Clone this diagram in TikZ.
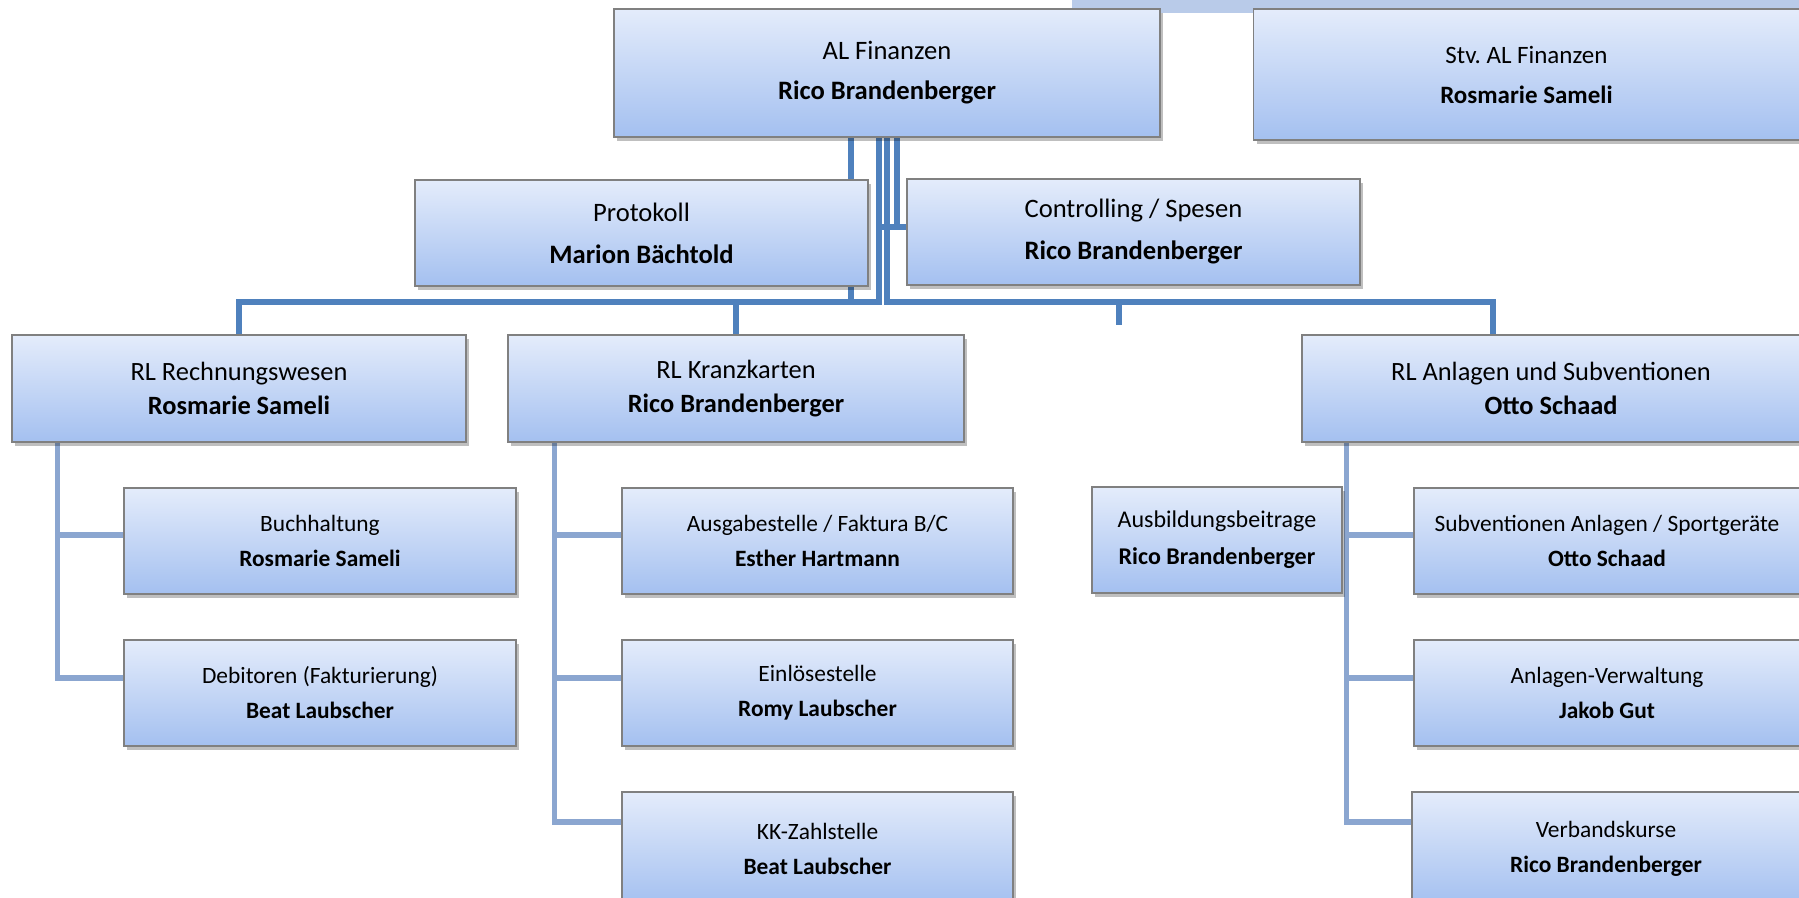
\documentclass[tikz,border=0pt]{standalone}
\usepackage{fontspec}
\setmainfont{Carlito}
\usetikzlibrary{shadows,backgrounds}
\definecolor{boxtop}{RGB}{228,236,251}
\definecolor{boxbot}{RGB}{164,192,240}
\definecolor{boxline}{RGB}{128,128,128}
\definecolor{lineblue}{RGB}{79,129,189}
\definecolor{linelight}{RGB}{139,166,208}
\definecolor{stripblue}{RGB}{185,203,233}
\begin{document}
\begin{tikzpicture}[x=0.5pt,y=-0.5pt,
	box/.style={draw=boxline,line width=0.75pt,top color=boxtop,bottom color=boxbot,
		drop shadow={shadow xshift=1.5pt,shadow yshift=-2pt,opacity=0.25,fill=black},
		inner sep=0pt,align=center},
	chef/.style={box,minimum width=273pt,minimum height=64pt,font=\fontsize{13.3pt}{20pt}\selectfont},
	stab/.style={box,minimum width=226.5pt,minimum height=53pt,font=\fontsize{13.3pt}{21pt}\selectfont},
	rl/.style={box,minimum height=53.5pt,font=\fontsize{13.2pt}{17pt}\selectfont},
	sub/.style={box,minimum height=53pt,font=\fontsize{11.7pt}{17.5pt}\selectfont},
	conn/.style={line width=2.75pt,color=lineblue},
	subconn/.style={line width=2.75pt,color=linelight}]
	\useasboundingbox (0,0) rectangle (1799,898);
	\fill[stripblue] (1072,0) rectangle (1799,13);
	% Leitung
	\node[chef] (al) at (887,73) {AL Finanzen\\\textbf{Rico Brandenberger}};
	\node[chef,font=\fontsize{12.5pt}{20pt}\selectfont,minimum height=65.5pt] (stv) at (1526.5,74.5) {Stv.\ AL Finanzen\\\textbf{Rosmarie Sameli}};
	\node[stab] (pr) at (641.5,233) {Protokoll\\\textbf{Marion Bächtold}};
	\node[stab] (ct) at (1133.5,232) {Controlling / Spesen\\\textbf{Rico Brandenberger}};
	% Ressorts
	\node[rl,minimum width=227pt] (rw) at (239,388.5) {RL Rechnungswesen\\\textbf{Rosmarie Sameli}};
	\node[rl,minimum width=228pt] (kz) at (736,388.5) {RL Kranzkarten\\\textbf{Rico Brandenberger}};
	\node[rl,minimum width=249pt] (an) at (1551,388.5) {RL Anlagen und Subventionen\\\textbf{Otto Schaad}};
	\coordinate (leer) at (1119,325);
	% Stellen
	\node[sub,minimum width=196pt] (bu) at (320,541) {Buchhaltung\\\textbf{Rosmarie Sameli}};
	\node[sub,minimum width=196pt] (de) at (320,693) {Debitoren (Fakturierung)\\\textbf{Beat Laubscher}};
	\node[sub,minimum width=195.5pt] (ag) at (817.5,541) {Ausgabestelle / Faktura B/C\\\textbf{Esther Hartmann}};
	\node[sub,minimum width=195.5pt] (el) at (817.5,693) {Einlösestelle\\\textbf{Romy Laubscher}};
	\node[sub,minimum width=195.5pt,minimum height=56.5pt] (kk) at (817.5,848.5) {KK-Zahlstelle\\\textbf{Beat Laubscher}};
	\node[sub,minimum width=125pt,font=\fontsize{12pt}{18.5pt}\selectfont] (ab) at (1217,540) {Ausbildungsbeitrage\\\textbf{Rico Brandenberger}};
	\node[sub,minimum width=193pt] (sv) at (1607,541) {Subventionen Anlagen / Sportgeräte\\\textbf{Otto Schaad}};
	\node[sub,minimum width=193pt] (av) at (1607,693) {Anlagen-Verwaltung\\\textbf{Jakob Gut}};
	\node[sub,minimum width=194pt,minimum height=56.5pt] (vk) at (1606,848.5) {Verbandskurse\\\textbf{Rico Brandenberger}};
	\begin{scope}[on background layer]
		\coordinate (bus) at ([yshift=16pt]rw.north);
		\draw[conn] ([xshift=-18pt]al.south) -- ([xshift=-18pt]al.south |- bus);
		\draw[conn] ([xshift=-4pt]al.south) |- (bus -| rw.north) -- (rw.north);
		\draw[conn] (bus -| kz.north) -- (kz.north);
		\draw[conn] (al.south) |- ([xshift=-29pt]an.north |- bus) -- ([xshift=-29pt]an.north);
		\draw[conn] (bus -| leer) -- (leer);
		\draw[conn] ([xshift=5pt]al.south) |- ([yshift=2.5pt]ct.west);
		\draw[conn] ([xshift=-4pt]al.south) |- ([yshift=2.5pt]ct.west);
		\draw[subconn] ([xshift=23pt]rw.south west) |- ([yshift=3pt]bu.west);
		\draw[subconn] ([xshift=23pt]rw.south west) |- ([yshift=7.5pt]de.west);
		\draw[subconn] ([xshift=23.5pt]kz.south west) |- ([yshift=3pt]ag.west);
		\draw[subconn] ([xshift=23.5pt]kz.south west) |- ([yshift=7.5pt]el.west);
		\draw[subconn] ([xshift=23.5pt]kz.south west) |- ([yshift=13.25pt]kk.west);
		\draw[subconn] ([xshift=22.5pt]an.south west) |- ([yshift=3pt]sv.west);
		\draw[subconn] ([xshift=22.5pt]an.south west) |- ([yshift=7.5pt]av.west);
		\draw[subconn] ([xshift=22.5pt]an.south west) |- ([yshift=13.25pt]vk.west);
	\end{scope}
\end{tikzpicture}
\end{document}
